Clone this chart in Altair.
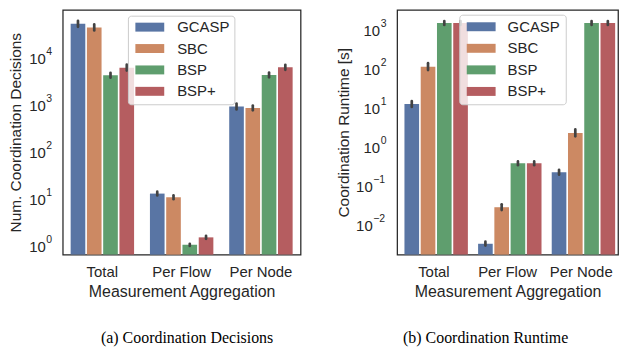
import altair as alt
import pandas as pd

categories = ["Total", "Per Flow", "Per Node"]
algorithms = ["GCASP", "SBC", "BSP", "BSP+"]
palette = ["#5975a4", "#cc8963", "#5f9e6e", "#b55d60"]

# (a) Num. coordination decisions: values for Total, Per Flow, Per Node
dec_gcasp = [48400, 12.2, 855]
dec_sbc = [40700, 10.2, 800]
dec_bsp = [3940, 1.0, 4000]
dec_bspp = [5710, 1.44, 5800]
dec_gcasp_lo = [41900, 11.1, 740]
dec_gcasp_hi = [56000, 13.4, 990]
dec_sbc_lo = [35200, 9.3, 710]
dec_sbc_hi = [47000, 11.2, 900]
dec_bsp_lo = [3500, 0.95, 3550]
dec_bsp_hi = [4440, 1.05, 4510]
dec_bspp_lo = [4940, 1.34, 5140]
dec_bspp_hi = [6600, 1.55, 6540]

# (b) Coordination runtime [s]: values for Total, Per Flow, Per Node
rt_gcasp = [11.6, 0.0030, 0.205]
rt_sbc = [105, 0.026, 2.1]
rt_bsp = [1380, 0.35, 1380]
rt_bspp = [1380, 0.35, 1380]
rt_gcasp_lo = [9.7, 0.0027, 0.177]
rt_gcasp_hi = [13.8, 0.0034, 0.237]
rt_sbc_lo = [86, 0.022, 1.71]
rt_sbc_hi = [129, 0.031, 2.58]
rt_bsp_lo = [1230, 0.31, 1230]
rt_bsp_hi = [1550, 0.39, 1550]
rt_bspp_lo = [1230, 0.31, 1230]
rt_bspp_hi = [1550, 0.39, 1550]

# y tick labels (10^k)
dec_tick_vals = [1, 10, 100, 1000, 10000]
dec_tick_exps = ["0", "1", "2", "3", "4"]
rt_tick_vals_pos = [1, 10, 100, 1000]
rt_tick_exps_pos = ["0", "1", "2", "3"]
rt_tick_vals_neg = [0.01, 0.1]
rt_tick_exps_neg = ["\u22122", "\u22121"]

FONT = "Liberation Sans"
TXT = "#262626"
H = 246
SWATCH = "M-1,-0.31H1V0.31H-1Z"


def build(means, lows, highs):
    rows = []
    for a, m, lo, hi in zip(algorithms, means, lows, highs):
        for c, v, l, h in zip(categories, m, lo, hi):
            rows.append(dict(cat=c, algo=a, value=v, low=l, high=h))
    return pd.DataFrame(rows)


def tick_layers(vals, exps, x_base, yscale, y_axis):
    tdf = pd.DataFrame({"v": vals, "e": exps})
    base_txt = alt.Chart(tdf).mark_text(
        align="right", baseline="middle", dy=2.5, fontSize=15, font=FONT, color=TXT
    ).encode(x=alt.value(x_base), y=alt.Y("v:Q", scale=yscale, axis=y_axis), text=alt.value("10"))
    sup_txt = alt.Chart(tdf).mark_text(
        align="left", baseline="middle", dy=-4.5, fontSize=10.5, font=FONT, color=TXT
    ).encode(x=alt.value(x_base + 0.5), y=alt.Y("v:Q", scale=yscale, axis=y_axis), text="e:N")
    return [base_txt, sup_txt]


def panel(df, domain, ticks, ytitle, title_pad, width, leg, caption, cap_dx):
    x_axis = alt.Axis(
        title="Measurement Aggregation", labelAngle=0, ticks=False, domain=False, grid=False,
        labelFont=FONT, labelFontSize=15, labelColor=TXT, labelPadding=10,
        titleFont=FONT, titleFontSize=16, titleFontWeight="normal", titleColor=TXT, titlePadding=4,
    )
    x_enc = alt.X("cat:N", sort=categories, scale=alt.Scale(paddingInner=0.2, paddingOuter=0.1), axis=x_axis)
    xo = alt.XOffset("algo:N", sort=algorithms, scale=alt.Scale(paddingInner=0.1))
    yscale = alt.Scale(type="log", domain=domain)
    y_axis = alt.Axis(
        title=ytitle, labels=False, ticks=False, domain=False, grid=False,
        titleFont=FONT, titleFontSize=15.5, titleFontWeight="normal", titleColor=TXT, titlePadding=title_pad,
    )
    color = alt.Color("algo:N", scale=alt.Scale(domain=algorithms, range=palette), legend=None)
    base = alt.Chart(df)
    bars = base.mark_bar().encode(
        x=x_enc, xOffset=xo,
        y=alt.Y("value:Q", scale=yscale, axis=y_axis, stack=None),
        y2=alt.value(H), color=color
    )
    errs = base.mark_rule(color="#424242", strokeWidth=2.7, strokeCap="round").encode(
        x=x_enc, xOffset=xo, y=alt.Y("low:Q", scale=yscale, axis=y_axis), y2="high:Q"
    )
    layers = [bars, errs]
    for vals, exps, xb in ticks:
        layers += tick_layers(vals, exps, xb, yscale, y_axis)
    main = alt.layer(*layers)

    leg_df = pd.DataFrame({"algo": algorithms})
    ly = alt.Y("algo:N", sort=algorithms,
               scale=alt.Scale(type="point", domain=algorithms, range=[leg["y0"], leg["y1"]], padding=0),
               axis=None)
    box = alt.Chart(pd.DataFrame({"k": [0]})).mark_rect(
        fill="white", fillOpacity=0.8, stroke="#cccccc", strokeWidth=1, cornerRadius=3
    ).encode(x=alt.value(leg["x0"]), x2=alt.value(leg["x1"]), y=alt.value(leg["by0"]), y2=alt.value(leg["by1"]))
    sw = alt.Chart(leg_df).mark_point(filled=True, opacity=1, shape=SWATCH, size=841).encode(
        x=alt.value(leg["sx"]), y=ly, color=color
    )
    lt = alt.Chart(leg_df).mark_text(align="left", baseline="middle", fontSize=15, font=FONT, color=TXT).encode(
        x=alt.value(leg["tx"]), y=ly, text="algo:N"
    )
    legend = alt.layer(box, sw, lt)

    return alt.layer(main, legend).resolve_scale(y="independent").properties(
        width=width, height=H,
        title=alt.TitleParams(caption, orient="bottom", anchor="middle", frame="group",
                              font="Liberation Serif", fontSize=16, fontWeight="normal",
                              color="black", offset=31, dx=cap_dx),
    )


dec_df = build([dec_gcasp, dec_sbc, dec_bsp, dec_bspp],
               [dec_gcasp_lo, dec_sbc_lo, dec_bsp_lo, dec_bspp_lo],
               [dec_gcasp_hi, dec_sbc_hi, dec_bsp_hi, dec_bspp_hi])
rt_df = build([rt_gcasp, rt_sbc, rt_bsp, rt_bspp],
              [rt_gcasp_lo, rt_sbc_lo, rt_bsp_lo, rt_bspp_lo],
              [rt_gcasp_hi, rt_sbc_hi, rt_bsp_hi, rt_bspp_hi])

left = panel(
    dec_df, [0.62, 96000], [(dec_tick_vals, dec_tick_exps, -17)],
    "Num. Coordination Decisions", 39, 239,
    dict(x0=66, x1=173, by0=6.4, by1=95.4, sx=87.5, tx=115, y0=17.4, y1=81.9),
    "(a) Coordination Decisions", 5.5,
)
right = panel(
    rt_df, [0.00158, 3020],
    [(rt_tick_vals_pos, rt_tick_exps_pos, -17), (rt_tick_vals_neg, rt_tick_exps_neg, -24.5)],
    "Coordination Runtime [s]", 46, 222,
    dict(x0=63, x1=170, by0=5.4, by1=95.4, sx=84.5, tx=111, y0=17.0, y1=82.0),
    "(b) Coordination Runtime", -22,
)

chart = alt.hconcat(left, right, spacing=34).properties(
    padding={"left": 0, "top": 0, "right": 0, "bottom": 0}
).configure_view(stroke=TXT, strokeWidth=1.25)

chart.save("out.html", embed_options={"renderer": "svg", "actions": False})
